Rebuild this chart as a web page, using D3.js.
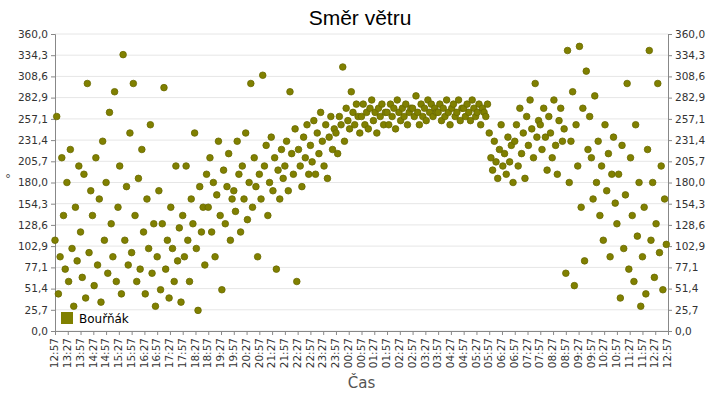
<!DOCTYPE html>
<html>
<head>
<meta charset="utf-8">
<script src="https://cdn.jsdelivr.net/npm/d3@7"></script>
<style>
  body { margin: 0; background: #fff; }
  text { font-family: "DejaVu Sans", sans-serif; }
</style>
</head>
<body>
<div id="chart"></div>
<script>
// wind direction readings, one every 4 minutes starting 12:57
const startTime = new Date(2020, 0, 1, 12, 57);
const stepMinutes = 4;
const directions = [
  110,260,45,90,210,140,75,180,60,220,100,30,150,85,200,
  120,65,190,40,300,95,170,140,55,210,80,160,35,230,110,
  180,70,265,130,90,290,60,150,200,45,335,110,175,80,240,
  95,300,140,60,185,75,220,120,45,160,100,250,70,130,30,
  90,170,50,130,295,75,110,40,150,100,60,200,85,125,35,
  140,90,200,110,60,160,130,240,100,25,175,120,150,80,190,
  150,210,120,180,90,165,230,140,50,195,130,175,215,110,160,
  170,145,230,190,120,200,160,240,135,180,300,150,210,175,90,
  190,160,310,200,225,140,180,235,170,210,75,195,160,220,185,
  200,230,170,290,215,190,245,60,220,200,175,235,210,250,190,
  225,205,255,190,240,215,265,230,200,250,185,235,260,220,245,
  240,215,260,250,320,230,270,255,245,290,265,250,275,260,240,
  260,275,250,265,245,270,280,255,265,240,270,260,275,250,265,
  265,250,275,260,270,245,280,265,255,270,260,275,250,265,270,
  270,260,285,265,250,275,260,270,255,280,265,275,260,270,265,
  265,275,255,270,260,280,265,250,270,275,260,265,280,255,270,
  270,260,275,265,255,280,270,260,265,275,250,270,265,260,275,
  240,210,195,230,205,185,220,250,200,215,190,235,205,225,180,
  230,250,200,270,215,240,185,260,225,280,245,210,300,235,255,
  250,220,270,235,195,260,240,210,280,225,190,255,270,230,245,
  70,340,180,230,290,55,250,200,345,150,270,85,315,220,260,
  210,160,285,180,230,140,200,110,250,170,215,90,190,235,155,
  130,190,40,225,100,165,300,75,210,140,60,250,115,180,30,
  90,150,45,220,340,110,180,65,130,300,95,200,50,160,105
];
const yTicks = [0, 25.7, 51.4, 77.1, 102.9, 128.6, 154.3, 180, 205.7, 231.4, 257.1, 282.9, 308.6, 334.3, 360];
const seriesName = 'Bouřňák';

const width = 720, height = 400;
const margin = { top: 34, right: 52, bottom: 69, left: 55 };
const innerW = width - margin.left - margin.right;
const innerH = height - margin.top - margin.bottom;

const data = directions.map((v, i) => ({ t: d3.timeMinute.offset(startTime, i * stepMinutes), v }));
const endTime = d3.timeMinute.offset(startTime, 24 * 60);

const svg = d3.select('#chart').append('svg')
  .attr('width', width).attr('height', height);

svg.append('text')
  .attr('x', width / 2).attr('y', 25)
  .attr('text-anchor', 'middle')
  .style('font-family', '"Liberation Sans", Arial, sans-serif')
  .style('font-size', '21px')
  .text('Směr větru');

const g = svg.append('g').attr('transform', `translate(${margin.left},${margin.top})`);

const x = d3.scaleTime().domain([startTime, endTime]).range([0, innerW]);
const y = d3.scaleLinear().domain([0, 360]).range([innerH, 0]);

g.selectAll('.grid').data(yTicks).enter().append('line')
  .attr('x1', 0).attr('x2', innerW)
  .attr('y1', d => y(d)).attr('y2', d => y(d))
  .attr('stroke', '#e6e6e6');

const fmt = d => d3.format('.1f')(d).replace('.', ',');

const yl = g.append('g').call(d3.axisLeft(y).tickValues(yTicks).tickFormat(fmt).tickSize(4));
const yr = g.append('g').attr('transform', `translate(${innerW},0)`)
  .call(d3.axisRight(y).tickValues(yTicks).tickFormat(fmt).tickSize(4));

const xTicks = d3.range(49).map(i => d3.timeMinute.offset(startTime, i * 30));
const xa = g.append('g').attr('transform', `translate(0,${innerH})`)
  .call(d3.axisBottom(x).tickValues(xTicks).tickFormat(d3.timeFormat('%H:%M')).tickSize(4));
xa.selectAll('text')
  .attr('transform', 'rotate(-90)')
  .attr('x', -7).attr('y', -1)
  .attr('dy', '0.35em')
  .style('text-anchor', 'end');

[yl, yr, xa].forEach(a => {
  a.selectAll('text').style('font-size', '10.5px').style('fill', '#333');
  a.selectAll('line').attr('stroke', '#888');
  a.select('.domain').attr('stroke', '#888');
});

g.selectAll('circle').data(data).enter().append('circle')
  .attr('cx', d => x(d.t))
  .attr('cy', d => y(d.v))
  .attr('r', 3.3)
  .attr('fill', '#808000')
  .attr('stroke', '#6a6a00')
  .attr('stroke-width', 0.8);

svg.append('text')
  .attr('x', 8).attr('y', margin.top + innerH / 2)
  .attr('text-anchor', 'middle')
  .style('font-size', '12px').style('fill', '#555')
  .text('°');

svg.append('text')
  .attr('x', margin.left + innerW / 2).attr('y', 388)
  .attr('text-anchor', 'middle')
  .style('font-size', '15px').style('fill', '#555')
  .text('Čas');

const lg = g.append('g').attr('transform', `translate(6,${innerH - 19})`);
lg.append('rect').attr('width', 12).attr('height', 12).attr('fill', '#808000');
lg.append('text').attr('x', 18).attr('y', 10.5).style('font-size', '12px').text(seriesName);
</script>
</body>
</html>
